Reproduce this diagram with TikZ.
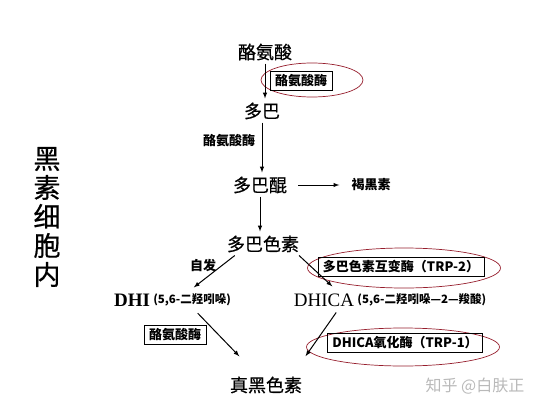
\documentclass[tikz,border=0pt]{standalone}
\usepackage{fontspec}
\setmainfont{Liberation Serif}
\newfontfamily\cjk{Noto Sans CJK SC}
\newfontfamily\cjkm[FakeBold=0.6]{Noto Sans CJK SC}
\usetikzlibrary{arrows,shapes,positioning,calc}
\definecolor{ringred}{RGB}{150,30,45}
\definecolor{markgray}{RGB}{185,185,185}

\begin{document}
\begin{tikzpicture}[x=1pt, y=-1pt,
    chem/.style={font=\cjkm\fontsize{18}{21}\selectfont, inner sep=3pt},
    enz/.style={font=\cjk\bfseries\fontsize{13}{15}\selectfont, inner sep=2pt},
    enzbox/.style={enz, draw=black, line width=0.6pt, inner xsep=5pt, inner ysep=3pt},
    latin/.style={font=\fontsize{19}{22}\selectfont, inner sep=1pt},
    note/.style={font=\cjk\bfseries\fontsize{11.5}{14}\selectfont, inner sep=1pt},
    ring/.style={ellipse, draw=ringred, line width=0.7pt, inner sep=0pt},
    cell/.style={font=\cjkm\fontsize{27}{29}\selectfont, align=center, inner sep=0pt},
    flow/.style={-latex, line width=1pt, shorten >=1pt},
]
\useasboundingbox (0,0) rectangle (538,415);

\node[chem] (tyr) at (265,52) {酪氨酸};
\node[ring, minimum width=102pt, minimum height=34pt] (ring1) at (312,80) {};
\node[enzbox] (tyrase1) at (301,81) {酪氨酸酶};
\node[chem] (dopa) at (262,111) {多巴};
\node[enz] (tyrase2) at (229,141) {酪氨酸酶};
\node[chem] (dq) at (260,185) {多巴醌};
\node[enz] (pheo) at (371,185) {褐黑素};
\node[chem] (dchrome) at (263,244) {多巴色素};
\node[enz] (spont) at (203,266) {自发};

\node[latin, font=\bfseries\fontsize{19}{22}\selectfont] (dhi) at (132,300) {DHI};
\node[note, right=1pt of dhi] (dhinote) {(5,6-二羟吲哚)};
\node[latin] (dhica) at (324,300) {DHICA};
\node[note, right=1pt of dhica] (dhicanote) {(5,6-二羟吲哚—2—羧酸)};

\node[ring, minimum width=193pt, minimum height=40pt] (ring2) at (404,268) {};
\node[enzbox] (trp2) at (401,267) {多巴色素互变酶（TRP-2）};
\node[enzbox] (tyrase3) at (175,335) {酪氨酸酶};
\node[ring, minimum width=193pt, minimum height=38pt] (ring3) at (403,347) {};
\node[enzbox] (trp1) at (405,343) {DHICA氧化酶（TRP-1）};
\node[chem] (eu) at (266,385) {真黑色素};

\node[cell] (cellin) at (47,217) {黑\\素\\细\\胞\\内};
\node[font=\cjk\fontsize{16}{18}\selectfont, text=markgray] (wm) at (475,386) {知乎 @白肤正};

\coordinate (dhiin) at (193,288);
\coordinate (dhicain) at (333,287);
\coordinate (euleft) at (240,357);
\coordinate (euright) at (305,357);

\draw[flow] (tyr.south) -- (tyr.south |- dopa.north);
\draw[flow] (dopa.south) -- (dopa.south |- dq.north);
\draw[flow, shorten <=8pt, shorten >=10pt] (dq.east) -- (pheo.west);
\draw[flow] (dq.south) -- (dq.south |- dchrome.north);
\draw[flow] ($(dchrome.south west)!0.14!(dchrome.south east)$) -- (dhiin);
\draw[flow] ($(dchrome.south east)!0.04!(dchrome.south west)$) -- (dhicain);
\draw[flow, shorten <=8pt] (dhinote.south) -- (euleft);
\draw[flow, shorten <=6pt] ($(dhica.south)!0.5!(dhica.south east)$) -- (euright);

%
\end{tikzpicture}
\end{document}
